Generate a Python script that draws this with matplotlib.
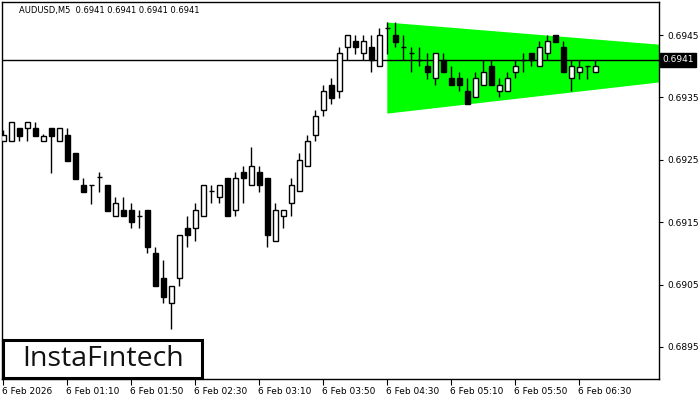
import matplotlib
matplotlib.use("Agg")
import matplotlib.pyplot as plt
from matplotlib.patches import Rectangle
import matplotlib.transforms as mtransforms

# ---- data: AUDUSD M5 candles ----
opens = [0.69280, 0.69280, 0.69301, 0.69301, 0.69301, 0.69280, 0.69301, 0.69280, 0.69290, 0.69261,
         0.69210, 0.69209, 0.69222, 0.69210, 0.69160, 0.69170, 0.69170, 0.69160, 0.69170, 0.69101,
         0.69061, 0.69021, 0.69061, 0.69140, 0.69140, 0.69160, 0.69200, 0.69190, 0.69221, 0.69170,
         0.69230, 0.69210, 0.69230, 0.69221, 0.69120, 0.69160, 0.69181, 0.69200, 0.69240, 0.69290,
         0.69330, 0.69370, 0.69360, 0.69431, 0.69440, 0.69421, 0.69431, 0.69400, 0.69461, 0.69450,
         0.69431, 0.69421, 0.69410, 0.69400, 0.69381, 0.69410, 0.69381, 0.69381, 0.69360, 0.69351,
         0.69370, 0.69400, 0.69360, 0.69360, 0.69391, 0.69410, 0.69421, 0.69400, 0.69421, 0.69450,
         0.69431, 0.69381, 0.69391, 0.69400, 0.69391]
highs = [0.69298, 0.69311, 0.69301, 0.69311, 0.69311, 0.69292, 0.69301, 0.69301, 0.69301, 0.69261,
         0.69221, 0.69210, 0.69231, 0.69210, 0.69190, 0.69190, 0.69181, 0.69170, 0.69170, 0.69110,
         0.69089, 0.69048, 0.69130, 0.69160, 0.69181, 0.69210, 0.69210, 0.69210, 0.69221, 0.69231,
         0.69240, 0.69271, 0.69240, 0.69221, 0.69181, 0.69170, 0.69221, 0.69261, 0.69290, 0.69330,
         0.69370, 0.69381, 0.69431, 0.69450, 0.69450, 0.69450, 0.69450, 0.69461, 0.69471, 0.69471,
         0.69450, 0.69431, 0.69431, 0.69421, 0.69421, 0.69421, 0.69400, 0.69391, 0.69381, 0.69391,
         0.69410, 0.69410, 0.69381, 0.69391, 0.69410, 0.69421, 0.69421, 0.69440, 0.69450, 0.69450,
         0.69440, 0.69410, 0.69410, 0.69400, 0.69410]
lows = [0.69280, 0.69280, 0.69280, 0.69280, 0.69288, 0.69280, 0.69229, 0.69280, 0.69248, 0.69219,
        0.69198, 0.69179, 0.69198, 0.69168, 0.69160, 0.69160, 0.69140, 0.69140, 0.69101, 0.69048,
        0.69021, 0.68979, 0.69048, 0.69110, 0.69120, 0.69160, 0.69181, 0.69181, 0.69160, 0.69160,
        0.69181, 0.69210, 0.69198, 0.69110, 0.69120, 0.69140, 0.69160, 0.69200, 0.69240, 0.69280,
        0.69320, 0.69339, 0.69349, 0.69410, 0.69420, 0.69410, 0.69391, 0.69400, 0.69420, 0.69431,
        0.69410, 0.69391, 0.69400, 0.69380, 0.69370, 0.69391, 0.69370, 0.69360, 0.69339, 0.69351,
        0.69370, 0.69370, 0.69351, 0.69360, 0.69381, 0.69391, 0.69400, 0.69400, 0.69410, 0.69439,
        0.69391, 0.69360, 0.69380, 0.69380, 0.69391]
closes = [0.69290, 0.69311, 0.69288, 0.69311, 0.69288, 0.69288, 0.69288, 0.69301, 0.69248, 0.69219,
          0.69198, 0.69210, 0.69221, 0.69168, 0.69181, 0.69160, 0.69150, 0.69160, 0.69110, 0.69048,
          0.69030, 0.69048, 0.69130, 0.69130, 0.69170, 0.69210, 0.69199, 0.69210, 0.69160, 0.69221,
          0.69221, 0.69240, 0.69210, 0.69130, 0.69170, 0.69170, 0.69210, 0.69250, 0.69280, 0.69320,
          0.69360, 0.69349, 0.69421, 0.69450, 0.69431, 0.69440, 0.69410, 0.69450, 0.69460, 0.69439,
          0.69430, 0.69420, 0.69410, 0.69391, 0.69421, 0.69391, 0.69370, 0.69370, 0.69339, 0.69381,
          0.69391, 0.69370, 0.69370, 0.69381, 0.69400, 0.69410, 0.69410, 0.69431, 0.69440, 0.69439,
          0.69391, 0.69400, 0.69399, 0.69399, 0.69400]

# triangle pattern (start bar, end bar; upper and lower boundary prices)
tri_x = [48, 82]
tri_upper = [0.69470, 0.694345]
tri_lower = [0.69324, 0.69374]

current_price = 0.6941
title_text = "AUDUSD,M5  0.6941 0.6941 0.6941 0.6941"
y_ticks = [0.6895, 0.6905, 0.6915, 0.6925, 0.6935, 0.6945]
x_tick_pos = [0, 8, 16, 24, 32, 40, 48, 56, 64, 72]
x_tick_labels = ["6 Feb 2026", "6 Feb 01:10", "6 Feb 01:50", "6 Feb 02:30", "6 Feb 03:10",
                 "6 Feb 03:50", "6 Feb 04:30", "6 Feb 05:10", "6 Feb 05:50", "6 Feb 06:30"]

# ---- figure ----
W, H = 700, 400
fig = plt.figure(figsize=(7, 4), dpi=100)
fig.patch.set_facecolor("white")
ax = fig.add_axes([2 / W, (H - 379) / H, (659 - 2) / W, (379 - 2) / H])
ax.set_xlim((2 - 3.3) / 8, (659 - 3.3) / 8)
ax.set_ylim(0.688987, 0.695029)

FONT = "DejaVu Sans"
FS = 6.5

# triangle fill
ax.fill([tri_x[0], tri_x[1], tri_x[1], tri_x[0]],
        [tri_upper[0], tri_upper[1], tri_lower[1], tri_lower[0]],
        color="#00ff00", lw=0, zorder=1)

# price line
ax.axhline(current_price, color="black", lw=1.0, zorder=2)

# candles
bw = 0.62
for i, (o, h, l, c) in enumerate(zip(opens, highs, lows, closes)):
    ax.plot([i, i], [l, h], color="black", lw=1.0, zorder=3, solid_capstyle="butt")
    lo, hi = min(o, c), max(o, c)
    fc = "white" if c >= o else "black"
    if hi - lo < 0.00002:
        ax.plot([i - bw / 2, i + bw / 2], [o, o], color="black", lw=1.0, zorder=4,
                solid_capstyle="butt")
    else:
        ax.add_patch(Rectangle((i - bw / 2, lo), bw, hi - lo, facecolor=fc,
                               edgecolor="black", lw=1.0, zorder=4))

# axes styling
for s in ["left", "right", "top", "bottom"]:
    ax.spines[s].set_color("black")
    ax.spines[s].set_linewidth(1.0)

ax.yaxis.tick_right()
ax.set_yticks(y_ticks)
ax.set_yticklabels([f"{v:.4f}" for v in y_ticks], fontsize=FS, family=FONT)
ax.tick_params(axis="y", direction="out", length=3, width=0.8, pad=3)

ax.set_xticks(x_tick_pos)
ax.set_xticklabels(x_tick_labels, fontsize=FS, family=FONT, ha="left")
ax.tick_params(axis="x", direction="out", length=4, width=0.8, pad=2)
for lab in ax.get_xticklabels():
    lab.set_transform(lab.get_transform() + mtransforms.ScaledTranslation(-1 / 100, 0, fig.dpi_scale_trans))

# current price label
trans = mtransforms.blended_transform_factory(ax.transAxes, ax.transData)
ax.text(1.005, current_price, "0.6941", transform=trans, fontsize=FS, family=FONT,
        color="white", va="center", ha="left", clip_on=False, zorder=10,
        bbox=dict(boxstyle="square,pad=0.25", fc="black", ec="black"))

# title
ax.text(17 / 657, 1 - 8 / 377, title_text, transform=ax.transAxes, fontsize=6.0, family=FONT,
        color="black", va="center", ha="left", zorder=10)

# logo box
ax.add_patch(Rectangle((1 / 657, 1 / 377), 199 / 657, 38 / 377, transform=ax.transAxes,
                       facecolor="white", edgecolor="black", lw=2.2, zorder=20, clip_on=False))
ax.text(101 / 657, 20 / 377, "InstaFıntech", transform=ax.transAxes, fontsize=20.5,
        family="Open Sans", weight="medium", color="#111111", va="center", ha="center", zorder=21)

fig.savefig("out.png", dpi=100)
